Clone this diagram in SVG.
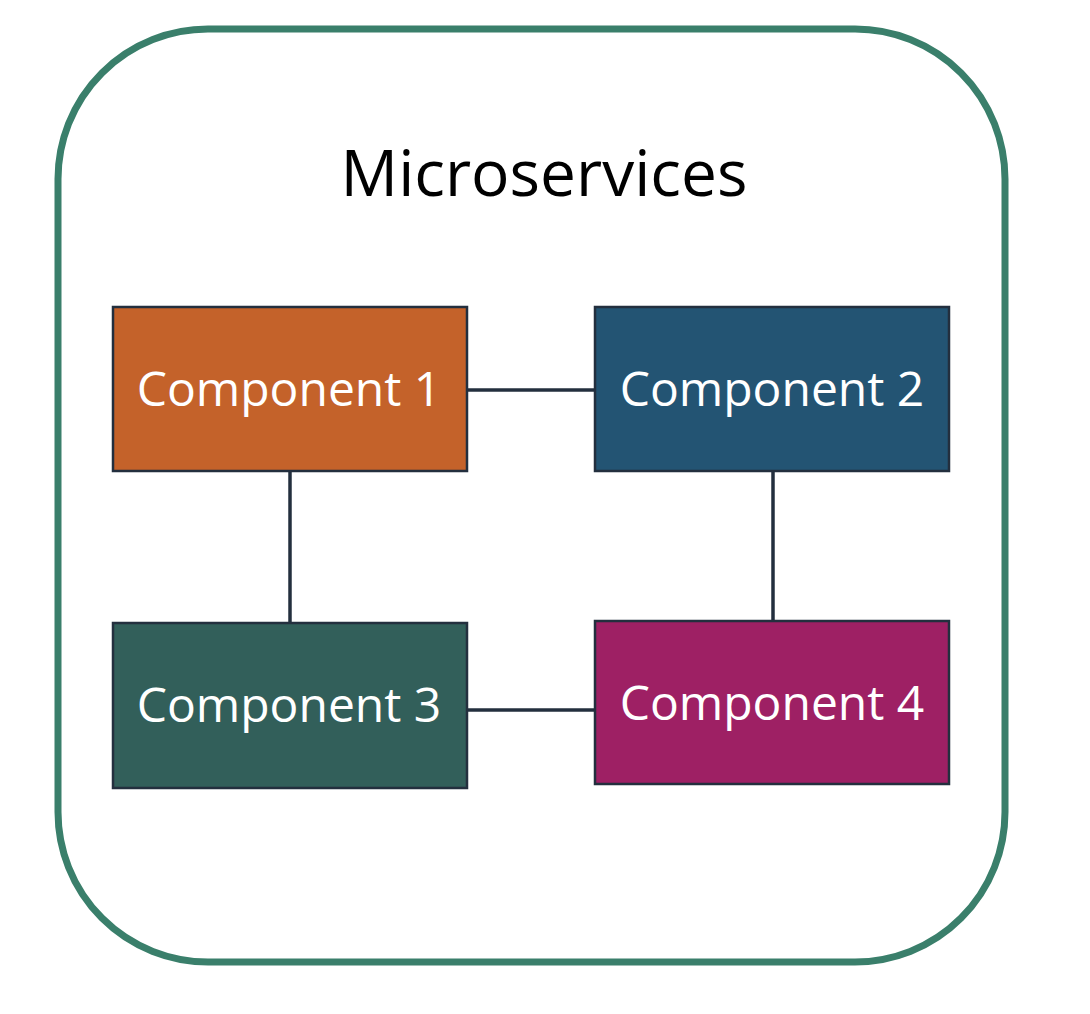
<svg xmlns="http://www.w3.org/2000/svg" width="1090" height="1014" viewBox="0 0 1090 1014">
<style>
.box{stroke:#232F3E;stroke-width:2.5}
.lbl{font-family:"Open Sans","Noto Sans",sans-serif;font-size:48px;font-weight:500;fill:#ffffff;text-anchor:middle}
.conn{stroke:#232F3E;stroke-width:3.5;fill:none}
</style>
<rect width="1090" height="1014" fill="#ffffff"/>
<g id="container">
<rect x="58" y="29" width="947" height="933" rx="150" ry="150" fill="#ffffff" stroke="#3A7F6B" stroke-width="7"/>
<text x="544" y="196" font-family="'Open Sans','Noto Sans',sans-serif" font-size="64" fill="#000000" text-anchor="middle">Microservices</text>
</g>
<g id="connectors">
<line class="conn" x1="467" y1="390" x2="595" y2="390"/>
<line class="conn" x1="467" y1="710" x2="595" y2="710"/>
<line class="conn" x1="290" y1="471" x2="290" y2="623"/>
<line class="conn" x1="773" y1="471" x2="773" y2="621"/>
</g>
<g id="component1">
<rect class="box" x="113" y="307" width="354" height="164" fill="#C4622A"/>
<text class="lbl" x="289" y="406">Component 1</text>
</g>
<g id="component2">
<rect class="box" x="595" y="307" width="354" height="164" fill="#235473"/>
<text class="lbl" x="772" y="406">Component 2</text>
</g>
<g id="component3">
<rect class="box" x="113" y="623" width="354" height="165" fill="#325F5A"/>
<text class="lbl" x="289" y="722">Component 3</text>
</g>
<g id="component4">
<rect class="box" x="595" y="621" width="354" height="163" fill="#9E2064"/>
<text class="lbl" x="772" y="720">Component 4</text>
</g>
</svg>
